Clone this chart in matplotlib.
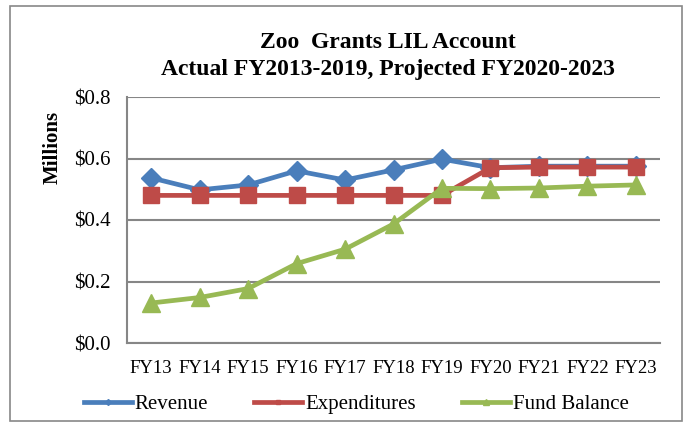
import matplotlib.pyplot as plt
from matplotlib.patches import Rectangle

years = ['FY13', 'FY14', 'FY15', 'FY16', 'FY17', 'FY18', 'FY19',
         'FY20', 'FY21', 'FY22', 'FY23']
revenue = [0.537, 0.498, 0.514, 0.560, 0.530, 0.563, 0.598,
           0.570, 0.575, 0.575, 0.575]
expenditures = [0.480, 0.480, 0.480, 0.480, 0.480, 0.480, 0.480,
                0.570, 0.572, 0.572, 0.572]
fund_balance = [0.130, 0.148, 0.177, 0.258, 0.305, 0.387, 0.503,
                0.502, 0.504, 0.510, 0.514]

plt.rcParams['font.family'] = ['Liberation Serif', 'DejaVu Serif']

fig = plt.figure(figsize=(6.86, 4.26), dpi=100)
fig.patches.append(Rectangle((10 / 686, 5 / 426), 672 / 686, 415 / 426,
                             transform=fig.transFigure, fill=False,
                             edgecolor='#888888', linewidth=1.2))

ax = fig.add_axes([127 / 686, 1 - 343 / 426, 533 / 686, 246 / 426])
x = range(len(years))
ax.plot(x, revenue, color='#4A7EBB', lw=3.4, marker='D', ms=10, label='Revenue')
ax.plot(x, expenditures, color='#BE4B48', lw=3.4, marker='s', ms=11, label='Expenditures')
ax.plot(x, fund_balance, color='#98B954', lw=3.4, marker='^', ms=13, label='Fund Balance')

ax.set_xlim(-0.5, len(years) - 0.5)
ax.set_ylim(0, 0.8)
ax.set_yticks([0, 0.2, 0.4, 0.6, 0.8])
ax.set_yticklabels(['$0.0', '$0.2', '$0.4', '$0.6', '$0.8'], fontsize=15)
ax.set_xticks(list(x))
ax.set_xticklabels(years, fontsize=13.5)
ax.tick_params(axis='x', length=0, pad=12)
ax.tick_params(axis='y', length=0, pad=12)
ax.grid(axis='y', color='#868686', lw=1.5)
ax.set_axisbelow(True)
for s in ['top', 'right']:
    ax.spines[s].set_visible(False)
for s in ['left', 'bottom']:
    ax.spines[s].set_color('#868686')
    ax.spines[s].set_linewidth(1.5)

# axis title sits high, near the top of the value axis
fig.text(53 / 686, 1 - 147 / 426, 'Millions', rotation=90, ha='center', va='center',
         fontsize=15, fontweight='bold')

fig.text(388 / 686, 1 - 42 / 426, 'Zoo  Grants LIL Account', ha='center', va='center',
         fontsize=17, fontweight='bold')
fig.text(388 / 686, 1 - 70 / 426, 'Actual FY2013-2019, Projected FY2020-2023', ha='center',
         va='center', fontsize=17, fontweight='bold')

leg = ax.legend(loc='center', bbox_to_anchor=(0.43, -0.25), ncol=3, frameon=False,
                fontsize=15, handlelength=2.3, markerscale=0.3, columnspacing=2.2,
                handletextpad=0.15)

plt.savefig('out.png', dpi=100)
